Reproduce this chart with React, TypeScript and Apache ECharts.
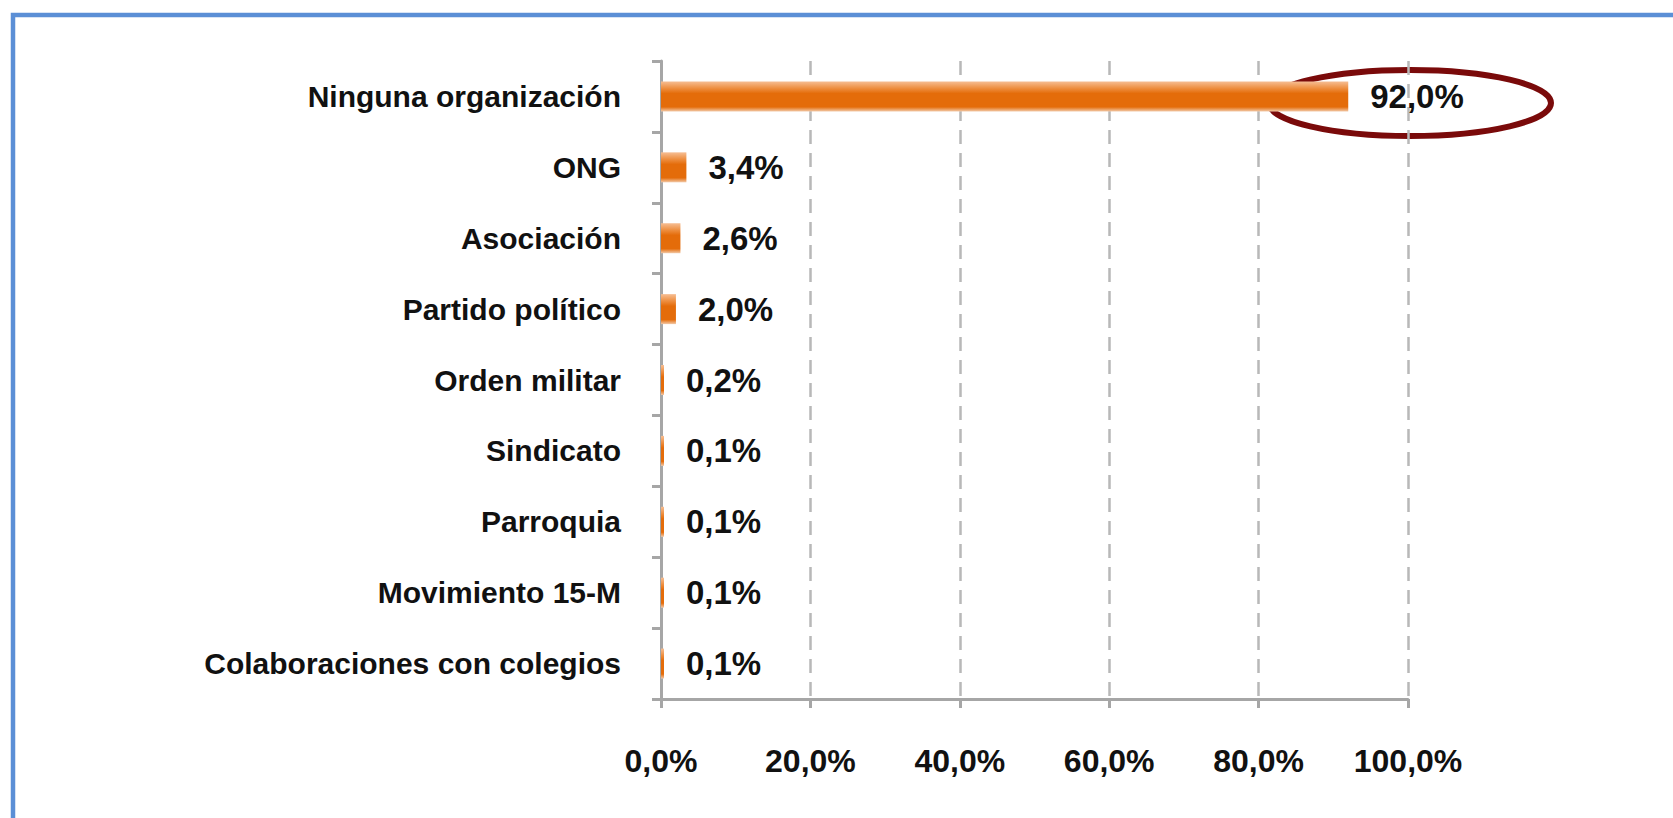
import React, { useEffect, useRef } from "react";
import * as echarts from "echarts";

const categories = [
  "Ninguna organización",
  "ONG",
  "Asociación",
  "Partido político",
  "Orden militar",
  "Sindicato",
  "Parroquia",
  "Movimiento 15-M",
  "Colaboraciones con colegios",
];
const values = [92.0, 3.4, 2.6, 2.0, 0.2, 0.1, 0.1, 0.1, 0.1];
const axisMin = 0;
const axisMax = 100;
const axisInterval = 20;

const fmt = (v: number) => v.toFixed(1).replace(".", ",") + "%";
const FONT = "'Liberation Sans', Arial, sans-serif";

export default function App() {
  const ref = useRef<HTMLDivElement>(null);
  useEffect(() => {
    if (!ref.current) return;
    const chart = echarts.init(ref.current, null, { renderer: "svg" });
    chart.setOption({
      animation: false,
      backgroundColor: "#ffffff",
      grid: { left: 661, right: 265, top: 61, bottom: 119, containLabel: false },
      xAxis: {
        type: "value",
        min: axisMin,
        max: axisMax,
        interval: axisInterval,
        axisLine: { show: true, lineStyle: { color: "#A6A6A6", width: 3 } },
        axisTick: { show: true, length: 9, lineStyle: { color: "#A6A6A6", width: 3 } },
        splitLine: { show: true, lineStyle: { color: "#B8B8B8", width: 2.5, type: [14, 9] } },
        axisLabel: {
          formatter: (v: number) => fmt(v),
          color: "#111",
          fontFamily: FONT,
          fontWeight: "bold",
          fontSize: 32,
          margin: 46,
        },
      },
      yAxis: {
        type: "category",
        inverse: true,
        data: categories,
        axisLine: { show: true, lineStyle: { color: "#A6A6A6", width: 3 } },
        axisTick: { show: true, length: 9, lineStyle: { color: "#A6A6A6", width: 3 } },
        axisLabel: {
          color: "#111",
          fontFamily: FONT,
          fontWeight: "bold",
          fontSize: 30,
          margin: 40,
        },
      },
      series: [
        {
          type: "bar",
          data: values,
          barWidth: 30,
          barMinHeight: 3,
          itemStyle: {
            color: new echarts.graphic.LinearGradient(0, 0, 0, 1, [
              { offset: 0, color: "#F6BE94" },
              { offset: 0.22, color: "#EE9043" },
              { offset: 0.4, color: "#E46C0A" },
              { offset: 0.85, color: "#E46C0A" },
              { offset: 1, color: "#F2C9A8" },
            ]),
          },
          label: {
            show: true,
            position: "right",
            distance: 22,
            formatter: (p: any) => fmt(p.value),
            color: "#111",
            fontFamily: FONT,
            fontWeight: "bold",
            fontSize: 33,
          },
        },
      ],
      graphic: [
        {
          type: "rect",
          shape: { x: 13, y: 15, width: 1720, height: 900 },
          style: { fill: "none", stroke: "#5B8FD6", lineWidth: 4.5 },
          silent: true,
        },
        {
          type: "ellipse",
          shape: { cx: 1410, cy: 103, rx: 141, ry: 33 },
          style: { fill: "none", stroke: "#7A0A0A", lineWidth: 6 },
          silent: true,
        },
      ],
    });
    return () => chart.dispose();
  }, []);
  return (
    <div
      ref={ref}
      style={{ position: "fixed", left: 0, top: 0, width: 1673, height: 818 }}
    />
  );
}
